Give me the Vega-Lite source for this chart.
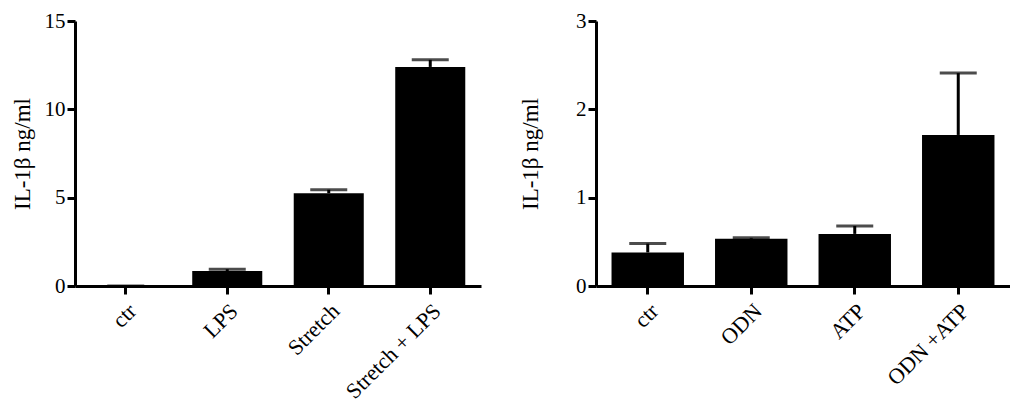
{
  "$schema": "https://vega.github.io/schema/vega-lite/v6.json",
  "background": "white",
  "padding": {"left": 11, "top": 10, "right": 0, "bottom": 0},
  "config": {
    "font": "Liberation Serif",
    "view": {"stroke": null},
    "concat": {"spacing": 38},
    "axis": {
      "grid": false,
      "domainColor": "black",
      "domainWidth": 3,
      "tickColor": "black",
      "tickWidth": 3,
      "tickSize": 8,
      "labelColor": "black",
      "labelFont": "Liberation Serif",
      "labelFontSize": 21,
      "labelPadding": 2,
      "titleFont": "Liberation Serif",
      "titleFontSize": 23,
      "titleFontWeight": "normal",
      "titleColor": "black"
    }
  },
  "hconcat": [
    {
      "width": 406,
      "height": 265,
      "data": {"values": [
        {"group": "ctr", "value": 0, "upper": 0},
        {"group": "LPS", "value": 0.85, "upper": 0.95},
        {"group": "Stretch", "value": 5.25, "upper": 5.45},
        {"group": "Stretch + LPS", "value": 12.4, "upper": 12.8}
      ]},
      "encoding": {
        "x": {"field": "group", "type": "nominal", "sort": null,
              "scale": {"paddingInner": 0.31, "paddingOuter": 0.155},
              "axis": {"title": null, "labelAngle": -45, "labelFontSize": 22, "labelPadding": 6}}
      },
      "layer": [
        {"mark": {"type": "bar", "color": "black"},
         "encoding": {"y": {"field": "value", "type": "quantitative",
                            "scale": {"domain": [0, 15], "nice": false},
                            "axis": {"title": "IL-1β ng/ml", "values": [0, 5, 10, 15], "format": "d", "titlePadding": 10}}}},
        {"mark": {"type": "rule", "color": "black", "strokeWidth": 3},
         "encoding": {"y": {"field": "value", "type": "quantitative", "scale": {"domain": [0, 15], "nice": false}}, "y2": {"field": "upper"}}},
        {"mark": {"type": "tick", "color": "black", "size": 37, "thickness": 3, "orient": "horizontal"},
         "encoding": {"y": {"field": "upper", "type": "quantitative", "scale": {"domain": [0, 15], "nice": false}}}}
      ]
    },
    {
      "width": 414,
      "height": 265,
      "data": {"values": [
        {"group": "ctr", "value": 0.38, "upper": 0.48},
        {"group": "ODN", "value": 0.535, "upper": 0.545},
        {"group": "ATP", "value": 0.59, "upper": 0.68},
        {"group": "ODN +ATP", "value": 1.71, "upper": 2.41}
      ]},
      "encoding": {
        "x": {"field": "group", "type": "nominal", "sort": null,
              "scale": {"paddingInner": 0.3, "paddingOuter": 0.15},
              "axis": {"title": null, "labelAngle": -45, "labelFontSize": 22, "labelPadding": 6}}
      },
      "layer": [
        {"mark": {"type": "bar", "color": "black"},
         "encoding": {"y": {"field": "value", "type": "quantitative",
                            "scale": {"domain": [0, 3], "nice": false},
                            "axis": {"title": "IL-1β ng/ml", "values": [0, 1, 2, 3], "format": "d", "titlePadding": 33}}}},
        {"mark": {"type": "rule", "color": "black", "strokeWidth": 3},
         "encoding": {"y": {"field": "value", "type": "quantitative", "scale": {"domain": [0, 3], "nice": false}}, "y2": {"field": "upper"}}},
        {"mark": {"type": "tick", "color": "black", "size": 37, "thickness": 3, "orient": "horizontal"},
         "encoding": {"y": {"field": "upper", "type": "quantitative", "scale": {"domain": [0, 3], "nice": false}}}}
      ]
    }
  ]
}
